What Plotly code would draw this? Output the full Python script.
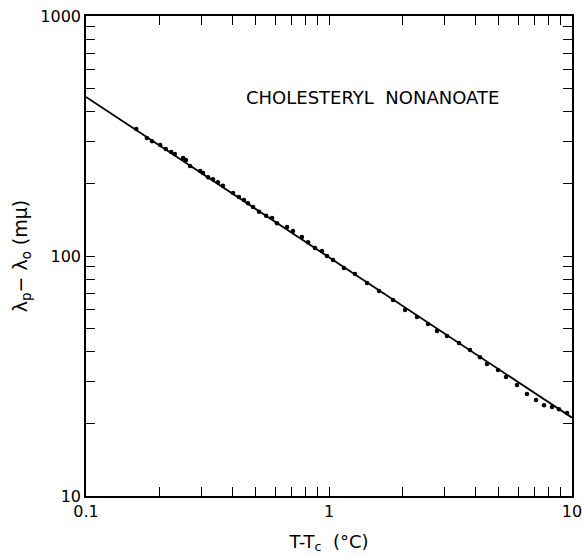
import plotly.graph_objects as go

# Measured data points (T - Tc in °C, λp - λo in mμ)
delta_t = [0.161, 0.178, 0.187, 0.202, 0.213, 0.224, 0.232, 0.251, 0.258, 0.268,
           0.295, 0.303, 0.318, 0.333, 0.349, 0.366, 0.403, 0.426, 0.447, 0.464,
           0.487, 0.515, 0.551, 0.583, 0.611, 0.672, 0.711, 0.774, 0.820, 0.876,
           0.936, 0.981, 1.039, 1.152, 1.279, 1.434, 1.606, 1.834, 2.055, 2.302,
           2.556, 2.783, 3.059, 3.428, 3.804, 4.182, 4.467, 4.961, 5.350, 5.938,
           6.529, 7.112, 7.670, 8.275, 8.841, 9.537]
wavelength_shift = [338, 310, 301, 290, 279, 271, 266, 256, 251, 237,
                    226, 222, 213, 209, 203, 196, 183, 176, 171, 166,
                    160, 153, 147, 144, 137, 132, 127, 120, 114, 108,
                    105, 100, 96.2, 89.1, 84.1, 77.2, 71.5, 65.6, 59.6, 55.7,
                    52.1, 48.7, 46.4, 43.4, 40.6, 37.9, 35.5, 33.5, 31.3, 29.0,
                    26.6, 25.1, 23.9, 23.5, 23.0, 22.2]

# Fitted straight line (log-log)
fit_x = [0.1, 10]
fit_y = [460, 21.2]

x_major = [0.1, 1, 10]
x_major_text = ["0.1", "1", "10"]
y_major = [10, 100, 1000]
y_major_text = ["10", "100", "1000"]
x_minor = [m * d for d in (0.1, 1) for m in range(2, 10)]
y_minor = [m * d for d in (10, 100) for m in range(2, 10)]

font_family = "DejaVu Sans, Liberation Sans, sans-serif"

fig = go.Figure()
fig.add_trace(go.Scatter(x=fit_x, y=fit_y, mode="lines",
                         line=dict(color="black", width=1.8),
                         showlegend=False, hoverinfo="skip"))
fig.add_trace(go.Scatter(x=delta_t, y=wavelength_shift, mode="markers",
                         marker=dict(color="black", size=4.5),
                         showlegend=False))

axis_common = dict(
    type="log",
    automargin=False,
    ticklabeloverflow="allow",
    showline=True, linecolor="black", linewidth=1.5,
    mirror="allticks",
    ticks="inside", ticklen=9, tickwidth=1, tickcolor="black",
    showgrid=False, zeroline=False,
    tickfont=dict(family=font_family, size=16, color="black"),
)

fig.update_xaxes(
    **axis_common,
    range=[-1, 1],
    tickmode="array", tickvals=x_major, ticktext=x_major_text,
    minor=dict(tickvals=x_minor, ticks="inside", ticklen=9, tickwidth=1,
               tickcolor="black", showgrid=False),
    title=dict(text="T-T<sub>c</sub>  (°C)",
               font=dict(family=font_family, size=18, color="black"),
               standoff=15),
)
fig.update_yaxes(
    **axis_common,
    range=[1, 3],
    tickmode="array", tickvals=y_major, ticktext=y_major_text,
    minor=dict(tickvals=y_minor, ticks="inside", ticklen=9, tickwidth=1,
               tickcolor="black", showgrid=False),
    title=dict(text="λ<sub>p</sub>− λ<sub>o</sub> (mμ)",
               font=dict(family=font_family, size=19, color="black"),
               standoff=8),
)

fig.add_annotation(x=0.590, y=0.831, xref="paper", yref="paper",
                   xanchor="center", yanchor="middle",
                   text="CHOLESTERYL  NONANOATE", showarrow=False,
                   font=dict(family=font_family, size=18, color="black"))

fig.update_layout(
    width=582, height=556,
    margin=dict(l=86, r=10, t=16, b=60),
    paper_bgcolor="white", plot_bgcolor="white",
)

# Remove the browser's default 8 px body margin so the figure fills the window.
fig.write_html("out.html",
               config={"displayModeBar": False},
               post_script="document.body.style.margin='0';"
                           "document.body.style.overflow='hidden';")
